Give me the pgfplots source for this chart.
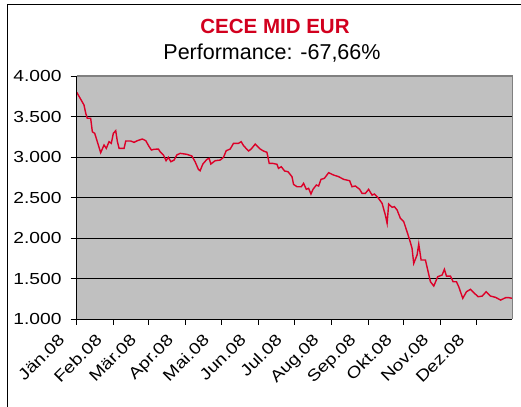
\documentclass[border=0pt]{standalone}
\usepackage{fontspec}
\setmainfont{Liberation Sans}
\usepackage{pgfplots}
\pgfplotsset{compat=1.18}
\definecolor{linered}{RGB}{220,0,40}
\definecolor{titlered}{RGB}{210,0,30}
\definecolor{plotbg}{RGB}{192,192,192}
\newcommand{\sx}[1]{\scalebox{1.2}[1]{#1}}
\begin{document}
\begin{tikzpicture}
\useasboundingbox (0,0) rectangle (521bp,407bp);
\draw[black, line width=1bp] (7bp,0) -- (7bp,402bp) -- (521bp,402bp);
\node[font=\fontsize{20.5bp}{24bp}\selectfont\bfseries, text=titlered, anchor=base] at (275bp,373.7bp) {CECE MID EUR};
\node[font=\fontsize{21.5bp}{24bp}\selectfont, anchor=base] at (272bp,347bp) {Performance: -67,66\%};
\begin{axis}[
  at={(76.7bp,88bp)}, anchor=south west,
  scale only axis, width=435.6bp, height=243bp,
  xmin=0, xmax=365, ymin=1000, ymax=4000,
  axis background/.style={fill=plotbg},
  axis line style={draw=none},
  ytick={1000,1500,2000,2500,3000,3500,4000},
  yticklabels={\sx{1.000},\sx{1.500},\sx{2.000},\sx{2.500},\sx{3.000},\sx{3.500},\sx{4.000}},
  xtick={0,31,60,91,121,152,182,213,244,274,305,335},
  xticklabels={\sx{Jän.08},\sx{Feb.08},\sx{Mär.08},\sx{Apr.08},\sx{Mai.08},\sx{Jun.08},\sx{Jul.08},\sx{Aug.08},\sx{Sep.08},\sx{Okt.08},\sx{Nov.08},\sx{Dez.08}},
  tick align=outside, major tick length=6bp,
  tick style={black, line width=0.8bp},
  xtick pos=bottom, ytick pos=left,
  ymajorgrids, grid style={black, line width=0.8bp},
  tick label style={font=\fontsize{16bp}{18bp}\selectfont},
  yticklabel style={inner sep=0pt, xshift=-9bp},
  xticklabel style={rotate=45, anchor=north east, inner sep=0pt, xshift=-19bp, yshift=8bp},
  clip=false,
]
\addplot[draw=linered, line width=1.4bp] coordinates {
(0,3800) (6.1,3642) (7.6,3539) (8.9,3478) (11.7,3478) (13.1,3312) (15.1,3292)
(20.1,3053) (22.9,3148) (24.8,3107) (27.1,3189) (29.0,3169) (30.7,3292) (32.7,3325)
(34.1,3189) (35.5,3107) (39.7,3107) (41.1,3197) (45.3,3197) (48.1,3181) (50.8,3201)
(55.0,3222) (57.9,3201) (60.7,3127) (62.6,3086) (64.8,3095) (68.5,3098) (69.9,3065)
(72.7,3025) (74.9,2954) (76.8,2996) (78.9,2942) (81.6,2962) (83.9,3025) (86.7,3045)
(92.3,3033) (96.5,3012) (99.2,2942) (102.0,2847) (103.4,2830) (105.7,2913) (109.1,2971)
(111.0,2983) (112.4,2913) (116.0,2954) (120.2,2962) (123.0,2996) (125.3,3078) (128.6,3098)
(131.4,3169) (135.6,3169) (137.8,3189) (139.8,3140) (144.0,3074) (146.2,3098) (149.6,3160)
(153.8,3098) (156.5,3074) (159.4,3058) (161.3,2922) (164.1,2922) (167.8,2910) (169.1,2860)
(171.4,2880) (174.2,2827) (177.0,2819) (180.4,2757) (181.7,2662) (184.6,2633) (188.2,2633)
(190.1,2675) (192.4,2601) (194.3,2613) (196.3,2543) (198.0,2601) (200.8,2654) (202.7,2642)
(204.7,2724) (207.5,2736) (211.1,2806) (215.3,2777) (219.5,2757) (223.7,2724) (228.7,2707)
(230.7,2633) (233.5,2642) (237.1,2601) (239.1,2551) (241.9,2551) (244.6,2601) (247.5,2530)
(249.4,2543) (252.2,2502) (253.9,2469) (255.9,2428) (258.6,2284) (260.1,2181) (261.4,2419)
(264.3,2379) (266.2,2387) (268.5,2345) (271.2,2243) (274.0,2202) (276.8,2078) (279.0,1975)
(281.0,1872) (282.4,1686) (285.2,1790) (286.6,1925) (288.6,1728) (292.2,1728) (296.4,1460)
(299.2,1407) (302.5,1522) (306.2,1543) (308.1,1613) (309.8,1530) (313.2,1530) (315.4,1460)
(318.2,1460) (320.1,1399) (323.5,1255) (326.6,1337) (329.9,1366) (332.7,1325) (336.4,1275)
(339.8,1283) (343.1,1337) (346.7,1283) (351.0,1267) (355.2,1234) (359.4,1263) (362.2,1263)
(365.0,1255)
};
\draw[draw={rgb,255:red,128;green,128;blue,128}, line width=1.5bp] (rel axis cs:0,1) -- (rel axis cs:1,1) -- (rel axis cs:1,0);
\draw[black, line width=1bp] (rel axis cs:0,1) -- (rel axis cs:0,0) -- (rel axis cs:1,0);
\end{axis}
\end{tikzpicture}
\end{document}
